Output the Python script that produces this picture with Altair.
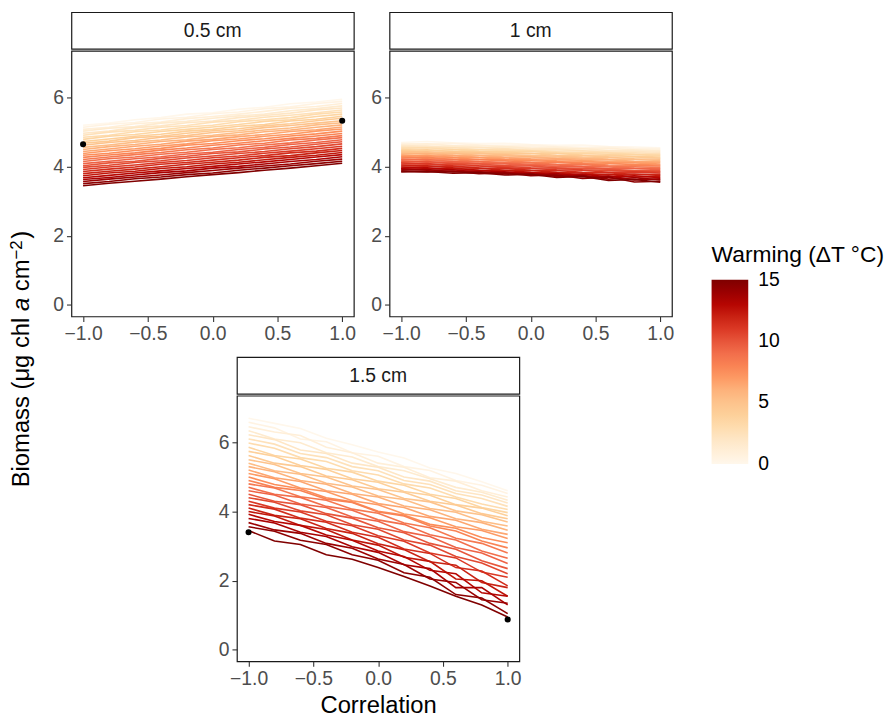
import altair as alt
import pandas as pd

FONT = "Liberation Sans"

CORRELATION = [-1.0, -0.8, -0.6, -0.4, -0.2, 0.0, 0.2, 0.4, 0.6, 0.8, 1.0]
WARMING = [0.0, 0.5, 1.0, 1.5, 2.0, 2.5, 3.0, 3.5, 4.0, 4.5, 5.0, 5.5, 6.0, 6.5, 7.0, 7.5,
           8.0, 8.5, 9.0, 9.5, 10.0, 10.5, 11.0, 11.5, 12.0, 12.5, 13.0, 13.5, 14.0, 14.5, 15.0]
DEPTHS = ["0.5 cm", "1 cm", "1.5 cm"]

BIOMASS_05 = [
    [5.20, 5.26, 5.36, 5.42, 5.52, 5.56, 5.66, 5.72, 5.82, 5.87, 5.95],
    [5.14, 5.23, 5.28, 5.38, 5.43, 5.53, 5.58, 5.68, 5.73, 5.83, 5.89],
    [5.08, 5.14, 5.24, 5.29, 5.39, 5.45, 5.52, 5.60, 5.69, 5.74, 5.83],
    [5.03, 5.11, 5.16, 5.26, 5.31, 5.40, 5.47, 5.52, 5.62, 5.68, 5.76],
    [4.97, 5.03, 5.13, 5.18, 5.27, 5.32, 5.42, 5.48, 5.55, 5.64, 5.70],
    [4.91, 5.00, 5.05, 5.14, 5.19, 5.29, 5.34, 5.43, 5.49, 5.56, 5.64],
    [4.85, 4.91, 5.01, 5.06, 5.15, 5.20, 5.30, 5.36, 5.42, 5.52, 5.58],
    [4.79, 4.88, 4.93, 5.02, 5.08, 5.15, 5.22, 5.31, 5.36, 5.45, 5.52],
    [4.73, 4.80, 4.88, 4.94, 5.03, 5.08, 5.17, 5.22, 5.32, 5.37, 5.46],
    [4.68, 4.74, 4.84, 4.88, 4.97, 5.04, 5.10, 5.18, 5.24, 5.33, 5.40],
    [4.62, 4.70, 4.76, 4.85, 4.90, 4.99, 5.04, 5.13, 5.19, 5.26, 5.33],
    [4.56, 4.63, 4.71, 4.77, 4.86, 4.91, 4.99, 5.06, 5.12, 5.21, 5.27],
    [4.50, 4.58, 4.64, 4.73, 4.78, 4.87, 4.92, 5.01, 5.06, 5.14, 5.21],
    [4.44, 4.51, 4.59, 4.65, 4.74, 4.79, 4.87, 4.93, 5.02, 5.07, 5.15],
    [4.38, 4.46, 4.52, 4.60, 4.66, 4.75, 4.80, 4.88, 4.94, 5.03, 5.09],
    [4.33, 4.39, 4.47, 4.53, 4.62, 4.67, 4.75, 4.81, 4.89, 4.95, 5.03],
    [4.27, 4.34, 4.40, 4.48, 4.54, 4.62, 4.68, 4.75, 4.82, 4.89, 4.96],
    [4.21, 4.28, 4.35, 4.41, 4.49, 4.54, 4.63, 4.68, 4.77, 4.82, 4.90],
    [4.15, 4.23, 4.28, 4.36, 4.42, 4.50, 4.55, 4.63, 4.69, 4.77, 4.84],
    [4.09, 4.16, 4.23, 4.29, 4.37, 4.42, 4.50, 4.56, 4.64, 4.70, 4.78],
    [4.03, 4.11, 4.16, 4.24, 4.30, 4.38, 4.43, 4.51, 4.57, 4.65, 4.72],
    [3.98, 4.04, 4.12, 4.17, 4.25, 4.31, 4.38, 4.44, 4.52, 4.58, 4.66],
    [3.92, 3.99, 4.05, 4.12, 4.18, 4.26, 4.31, 4.39, 4.45, 4.52, 4.59],
    [3.86, 3.93, 3.99, 4.07, 4.12, 4.19, 4.26, 4.32, 4.40, 4.45, 4.53],
    [3.80, 3.87, 3.93, 4.00, 4.07, 4.13, 4.19, 4.27, 4.32, 4.40, 4.47],
    [3.74, 3.82, 3.87, 3.95, 4.00, 4.08, 4.13, 4.20, 4.27, 4.33, 4.41],
    [3.68, 3.75, 3.82, 3.88, 3.95, 4.01, 4.08, 4.14, 4.21, 4.28, 4.35],
    [3.63, 3.69, 3.76, 3.83, 3.88, 3.96, 4.01, 4.08, 4.15, 4.21, 4.29],
    [3.57, 3.64, 3.70, 3.76, 3.83, 3.89, 3.96, 4.02, 4.08, 4.16, 4.22],
    [3.51, 3.57, 3.65, 3.70, 3.77, 3.82, 3.90, 3.96, 4.03, 4.09, 4.16],
    [3.45, 3.52, 3.58, 3.64, 3.71, 3.77, 3.83, 3.90, 3.96, 4.03, 4.10],
]

BIOMASS_10 = [
    [4.70, 4.73, 4.69, 4.67, 4.68, 4.64, 4.62, 4.63, 4.58, 4.57, 4.55],
    [4.67, 4.65, 4.68, 4.63, 4.62, 4.63, 4.58, 4.56, 4.57, 4.53, 4.52],
    [4.64, 4.66, 4.61, 4.62, 4.58, 4.57, 4.56, 4.52, 4.53, 4.49, 4.48],
    [4.62, 4.58, 4.60, 4.56, 4.57, 4.53, 4.51, 4.52, 4.47, 4.48, 4.45],
    [4.59, 4.60, 4.55, 4.56, 4.52, 4.50, 4.51, 4.46, 4.45, 4.44, 4.42],
    [4.56, 4.54, 4.55, 4.50, 4.51, 4.47, 4.45, 4.46, 4.41, 4.40, 4.38],
    [4.53, 4.55, 4.50, 4.49, 4.47, 4.46, 4.42, 4.41, 4.40, 4.36, 4.35],
    [4.50, 4.47, 4.49, 4.45, 4.43, 4.44, 4.39, 4.38, 4.36, 4.35, 4.32],
    [4.47, 4.49, 4.44, 4.43, 4.42, 4.38, 4.38, 4.34, 4.33, 4.30, 4.28],
    [4.45, 4.42, 4.43, 4.40, 4.37, 4.38, 4.33, 4.32, 4.29, 4.28, 4.25],
    [4.42, 4.43, 4.38, 4.38, 4.35, 4.32, 4.31, 4.28, 4.27, 4.23, 4.22],
    [4.39, 4.36, 4.38, 4.33, 4.33, 4.29, 4.28, 4.25, 4.22, 4.21, 4.18],
    [4.36, 4.38, 4.33, 4.32, 4.28, 4.28, 4.24, 4.22, 4.20, 4.16, 4.15],
    [4.33, 4.30, 4.32, 4.27, 4.26, 4.23, 4.22, 4.18, 4.16, 4.14, 4.12],
    [4.30, 4.32, 4.27, 4.26, 4.22, 4.21, 4.17, 4.16, 4.12, 4.11, 4.08],
    [4.28, 4.24, 4.26, 4.21, 4.20, 4.17, 4.15, 4.11, 4.10, 4.06, 4.05],
    [4.25, 4.27, 4.21, 4.20, 4.17, 4.13, 4.12, 4.09, 4.05, 4.04, 4.02],
    [4.22, 4.19, 4.20, 4.15, 4.13, 4.11, 4.07, 4.06, 4.02, 4.00, 3.98],
    [4.19, 4.21, 4.15, 4.14, 4.10, 4.07, 4.05, 4.01, 3.99, 3.96, 3.95],
    [4.16, 4.13, 4.14, 4.09, 4.08, 4.04, 4.01, 3.99, 3.94, 3.94, 3.92],
    [4.13, 4.15, 4.09, 4.08, 4.03, 4.02, 3.97, 3.95, 3.93, 3.88, 3.88],
    [4.11, 4.07, 4.08, 4.03, 4.01, 3.97, 3.96, 3.91, 3.89, 3.87, 3.85],
    [4.08, 4.09, 4.03, 4.02, 3.97, 3.95, 3.91, 3.90, 3.84, 3.85, 3.82],
    [4.05, 4.01, 4.02, 3.96, 3.95, 3.90, 3.89, 3.84, 3.83, 3.77, 3.78],
    [4.02, 4.03, 3.97, 3.96, 3.90, 3.89, 3.84, 3.82, 3.76, 3.79, 3.75],
    [3.99, 3.95, 3.96, 3.90, 3.89, 3.84, 3.83, 3.76, 3.78, 3.70, 3.72],
    [3.96, 3.97, 3.91, 3.90, 3.84, 3.83, 3.76, 3.79, 3.70, 3.74, 3.68],
    [3.94, 3.90, 3.91, 3.84, 3.85, 3.77, 3.80, 3.71, 3.73, 3.62, 3.65],
    [3.91, 3.92, 3.85, 3.86, 3.79, 3.80, 3.72, 3.75, 3.64, 3.68, 3.62],
    [3.88, 3.85, 3.87, 3.80, 3.82, 3.74, 3.76, 3.66, 3.70, 3.56, 3.58],
    [3.85, 3.86, 3.81, 3.83, 3.76, 3.78, 3.69, 3.72, 3.60, 3.63, 3.55],
]

BIOMASS_15 = [
    [6.70, 6.55, 6.40, 6.12, 5.93, 5.72, 5.55, 5.26, 5.10, 4.86, 4.60],
    [6.58, 6.42, 6.10, 6.02, 5.70, 5.60, 5.30, 5.19, 4.90, 4.76, 4.52],
    [6.45, 6.30, 6.20, 5.86, 5.70, 5.40, 5.28, 4.98, 4.88, 4.60, 4.42],
    [6.34, 6.10, 5.99, 5.70, 5.58, 5.30, 5.18, 4.95, 4.70, 4.56, 4.33],
    [6.22, 6.08, 5.78, 5.68, 5.40, 5.28, 5.00, 4.88, 4.60, 4.48, 4.25],
    [6.10, 5.95, 5.68, 5.56, 5.30, 5.18, 4.90, 4.78, 4.52, 4.38, 4.15],
    [5.98, 5.83, 5.56, 5.45, 5.18, 5.06, 4.80, 4.68, 4.42, 4.22, 4.06],
    [5.86, 5.62, 5.52, 5.25, 5.14, 4.88, 4.76, 4.50, 4.38, 4.12, 3.97],
    [5.74, 5.60, 5.33, 5.22, 4.95, 4.85, 4.58, 4.47, 4.20, 4.10, 3.88],
    [5.62, 5.40, 5.30, 5.03, 4.92, 4.66, 4.56, 4.30, 4.19, 3.94, 3.79],
    [5.50, 5.36, 5.10, 5.00, 4.74, 4.64, 4.38, 4.28, 4.02, 3.91, 3.70],
    [5.40, 5.18, 5.08, 4.82, 4.71, 4.45, 4.35, 4.09, 3.98, 3.72, 3.58],
    [5.30, 5.15, 4.90, 4.79, 4.52, 4.42, 4.16, 4.05, 3.79, 3.68, 3.46],
    [5.20, 4.98, 4.87, 4.60, 4.50, 4.23, 4.12, 3.86, 3.75, 3.49, 3.34],
    [5.10, 4.95, 4.68, 4.58, 4.31, 4.20, 3.93, 3.82, 3.56, 3.45, 3.22],
    [5.00, 4.78, 4.66, 4.40, 4.28, 4.01, 3.90, 3.63, 3.52, 3.25, 3.10],
    [4.90, 4.70, 4.61, 4.36, 4.26, 3.99, 3.87, 3.58, 3.44, 3.15, 2.95],
    [4.80, 4.68, 4.43, 4.33, 4.07, 3.95, 3.67, 3.53, 3.23, 3.08, 2.80],
    [4.70, 4.50, 4.41, 4.15, 4.04, 3.76, 3.63, 3.33, 3.18, 2.86, 2.65],
    [4.60, 4.48, 4.22, 4.12, 3.84, 3.72, 3.42, 3.28, 2.96, 2.80, 2.50],
    [4.50, 4.30, 4.20, 3.94, 3.81, 3.53, 3.39, 3.08, 2.91, 2.58, 2.35],
    [4.40, 4.27, 4.02, 3.91, 3.62, 3.49, 3.18, 3.03, 2.70, 2.51, 2.20],
    [4.30, 4.10, 3.99, 3.72, 3.59, 3.30, 3.14, 2.80, 2.66, 2.25, 2.10],
    [4.20, 4.07, 3.81, 3.69, 3.40, 3.26, 2.92, 2.79, 2.38, 2.28, 1.85],
    [4.10, 3.89, 3.79, 3.51, 3.37, 3.07, 2.90, 2.55, 2.45, 1.95, 1.80],
    [4.00, 3.87, 3.60, 3.48, 3.18, 3.03, 2.68, 2.56, 2.05, 2.00, 1.55],
    [3.92, 3.71, 3.60, 3.32, 3.17, 2.86, 2.70, 2.30, 2.20, 1.65, 1.55],
    [3.80, 3.67, 3.40, 3.28, 2.98, 2.82, 2.46, 2.35, 1.80, 1.80, 1.30],
    [3.68, 3.47, 3.37, 3.08, 2.94, 2.63, 2.47, 2.05, 1.95, 1.45, 1.35],
    [3.56, 3.43, 3.17, 3.05, 2.75, 2.59, 2.23, 2.10, 1.60, 1.50, 1.05],
    [3.45, 3.15, 3.05, 2.75, 2.62, 2.38, 2.12, 1.85, 1.55, 1.30, 0.95],
]

DOT_DEPTH = ["0.5 cm", "0.5 cm", "1.5 cm", "1.5 cm"]
DOT_CORR = [-1.0, 1.0, -1.0, 1.0]
DOT_BIOMASS = [4.65, 5.33, 3.40, 0.88]

X_TICKS = [-1.0, -0.5, 0.0, 0.5, 1.0]
Y_TICKS = [0, 2, 4, 6]
X_TITLE = "Correlation"
LEGEND_TITLE = "Warming (ΔT °C)"
LEGEND_VALUES = [0, 5, 10, 15]
# y-axis title pieces: (text, style, followed by a space)
Y_TITLE_PARTS = [("Biomass (μg chl", "normal", True), ("a", "italic", True),
                 ("cm", "normal", False), ("−2", "super", False), (")", "normal", False)]

# ColorBrewer OrRd (9 classes), spread over the warming range 0-15
ORRD = ["#fff7ec", "#fee8c8", "#fdd49e", "#fdbb84", "#fc8d59",
        "#ef6548", "#d7301f", "#b30000", "#7f0000"]
LO, HI = -0.03, 15.03   # tiny margin so the end labels sit centred on the bar ends
COLOR_STOPS = [LO + (HI - LO) * i / (len(ORRD) - 1) for i in range(len(ORRD))]

W, H, STRIP_H = 285, 268, 37
TICK_FS, TITLE_FS, LEG_TITLE_FS = 19.5, 24, 23
BORDER = alt.ViewBackground(stroke="#1a1a1a", strokeWidth=1.2, fill="white")
NOBORDER = alt.ViewBackground(stroke="transparent", fill="transparent")

tables = {"0.5 cm": BIOMASS_05, "1 cm": BIOMASS_10, "1.5 cm": BIOMASS_15}
rows = []
for depth in DEPTHS:
    for w, series in zip(WARMING, tables[depth]):
        for c, b in zip(CORRELATION, series):
            rows.append({"depth": depth, "warming": w, "corr": c, "biomass": b})
lines_df = pd.DataFrame(rows)
dots_df = pd.DataFrame({"depth": DOT_DEPTH, "corr": DOT_CORR, "biomass": DOT_BIOMASS})

legend = alt.Legend(
    title=LEGEND_TITLE, orient="none", legendX=709, legendY=234,
    direction="vertical", gradientLength=186, gradientThickness=37,
    gradientStrokeWidth=0, values=LEGEND_VALUES,
    titleFont=FONT, titleFontSize=LEG_TITLE_FS, titleFontWeight="normal", titleColor="black",
    titleLimit=400, titlePadding=13, labelFont=FONT, labelFontSize=TICK_FS,
    labelColor="black", labelOffset=10, labelOverlap=False,
)


def panel(depth, show_xtitle):
    xenc = alt.X("corr:Q",
                 scale=alt.Scale(domain=[-1.09, 1.09], nice=False, zero=False),
                 axis=alt.Axis(values=X_TICKS, format=".1f",
                               title=X_TITLE if show_xtitle else None))
    yenc = alt.Y("biomass:Q",
                 scale=alt.Scale(domain=[-0.33, 7.35], nice=False, zero=False),
                 axis=alt.Axis(values=Y_TICKS, title=None))
    lines = alt.Chart(lines_df[lines_df.depth == depth]).mark_line(
        strokeWidth=1.6).encode(
        x=xenc, y=yenc,
        color=alt.Color("warming:Q",
                        scale=alt.Scale(domain=COLOR_STOPS, range=ORRD, interpolate="lab"),
                        legend=legend),
        order=alt.Order("corr:Q"),
    )
    layers = [lines]
    sub = dots_df[dots_df.depth == depth]
    if len(sub):
        layers.append(alt.Chart(sub).mark_circle(size=38, color="black", opacity=1).encode(
            x="corr:Q", y="biomass:Q"))
    plot = alt.layer(*layers).properties(width=W, height=H, view=BORDER)
    strip = alt.Chart(pd.DataFrame({"t": [depth]})).mark_text(
        font=FONT, fontSize=TICK_FS, color="#1a1a1a").encode(
        text="t:N", x=alt.value(W / 2), y=alt.value(STRIP_H / 2 + 1)
    ).properties(width=W, height=STRIP_H, view=BORDER)
    return alt.vconcat(strip, plot, spacing=0)


pa = panel("0.5 cm", False)
pb = panel("1 cm", False)
pc = panel("1.5 cm", True)

spacer = alt.Chart(pd.DataFrame({"a": [0]})).mark_point(opacity=0).encode(
    x=alt.value(0), y=alt.value(0)).properties(width=147, height=10, view=NOBORDER)

top = alt.hconcat(pa, pb, spacing=13)
bottom = alt.hconcat(spacer, pc, spacing=0)
main = alt.vconcat(top, bottom, spacing=10)

# y-axis title built from pieces (rotated); widths estimated from Arial/Liberation metrics
CHAR_W = {"B": .667, "i": .222, "o": .556, "m": .833, "a": .556, "s": .5, " ": .278,
          "(": .333, ")": .333, "μ": .576, "g": .556, "c": .5, "h": .556, "l": .222,
          "−": .584, "2": .556}
SUP_FS = 17
parts = []
total = 0.0
for text, style, space_after in Y_TITLE_PARTS:
    fs = SUP_FS if style == "super" else TITLE_FS
    wpx = sum(CHAR_W.get(ch, .55) for ch in text) * fs
    parts.append((text, style, fs, total))
    total += wpx + (CHAR_W[" "] * TITLE_FS if space_after else 0) + (1.5 if style == "super" else 0)
center_y = 350
start_y = center_y + total / 2
ytitle_layers = []
for text, style, fs, off in parts:
    ytitle_layers.append(
        alt.Chart(pd.DataFrame({"t": [text]})).mark_text(
            font=FONT, fontSize=fs, angle=270, align="left", baseline="alphabetic",
            fontStyle="italic" if style == "italic" else "normal", color="black").encode(
            text="t:N",
            x=alt.value(20 if style != "super" else 13),
            y=alt.value(start_y - off),
        ))
ytitle = alt.layer(*ytitle_layers).properties(width=30, height=690, view=NOBORDER)

chart = alt.hconcat(ytitle, main, spacing=13).properties(
    padding={"left": 0, "top": 0, "right": 0, "bottom": 0}
).configure_axis(
    domain=False, grid=False, tickColor="#333333", tickSize=5, tickWidth=1.1,
    labelColor="#4d4d4d", labelFont=FONT, labelFontSize=TICK_FS, labelPadding=3,
    titleFont=FONT, titleFontSize=TITLE_FS, titleFontWeight="normal", titleColor="black",
    titlePadding=6,
).configure_view(strokeWidth=0)

chart.save("out.html", embed_options={"renderer": "svg", "actions": False})
